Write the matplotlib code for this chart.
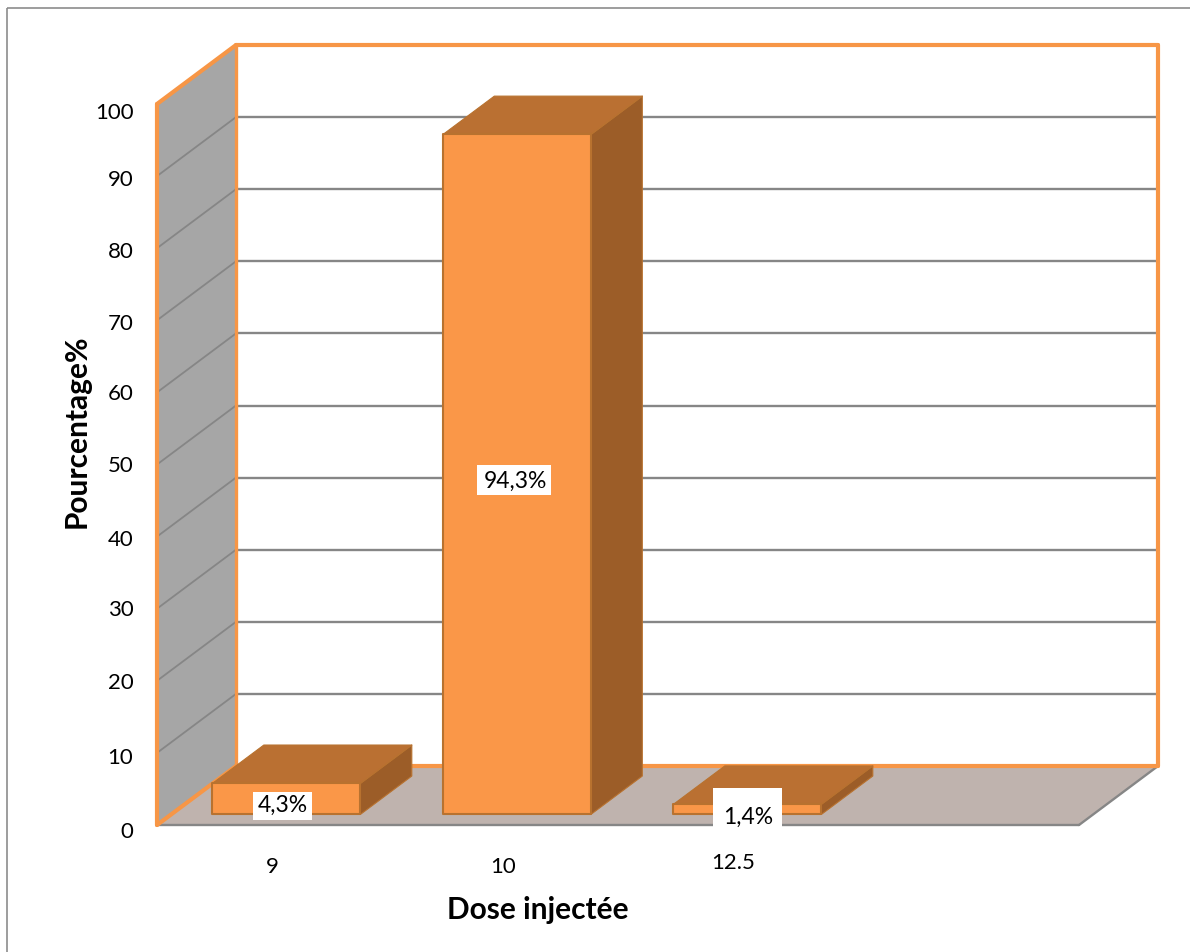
import matplotlib
matplotlib.use("Agg")
import matplotlib.pyplot as plt
from matplotlib.patches import Polygon, Rectangle
from matplotlib.transforms import Affine2D, ScaledTranslation

doses = ["9", "10", "12.5"]
percents = [4.3, 94.3, 1.4]
percent_labels = ["4,3%", "94,3%", "1,4%"]
y_ticks = [0, 10, 20, 30, 40, 50, 60, 70, 80, 90, 100]

plt.rcParams["font.family"] = ["Lato", "DejaVu Sans"]

W, H = 1190, 952
orange = "#F79646"
grid_col = "#868686"
bar_front = "#FA9748"
bar_top = "#BA7032"
bar_side = "#9C5D28"
bar_edge = "#B8722F"

fig = plt.figure(figsize=(W / 100, H / 100), dpi=100)
# top-left pixel coords, only for the frame and the text boxes
px = Affine2D().scale(1, -1).translate(0, H)

fig.add_artist(Rectangle((7, 8), W, H, transform=px, fill=False, ec="#8C8C8C", lw=1.2))

# front plane of the fake 3d box
left, right, y0, y100 = 157, 1079, 825, 104
ax = fig.add_axes([left / W, (H - y0) / H, (right - left) / W, (y0 - y100) / H])
ax.set_xlim(0, 4)
ax.set_ylim(0, 100)
ax.patch.set_visible(False)
for s in ax.spines.values():
    s.set_visible(False)

# depth of the box in data units
depth_x = 79 / ((right - left) / 4)
depth_y = 59 / ((y0 - y100) / 100)


def pt(x, v, d=0.0):
    return (x + d * depth_x, v + d * depth_y)


def poly(points, fc, ec="none", lw=0, z=1):
    ax.add_patch(Polygon(points, closed=True, fc=fc, ec=ec, lw=lw, zorder=z, clip_on=False, joinstyle="round"))


def line(a, b, col, lw, z):
    ax.plot([a[0], b[0]], [a[1], b[1]], color=col, lw=lw, zorder=z, clip_on=False, solid_capstyle="round")


# walls and floor
poly([pt(0, 0), pt(0, 100), pt(0, 100, 1), pt(0, 0, 1)], "#A6A6A6", z=1)
poly([pt(0, 0, 1), pt(4, 0, 1), pt(4, 0), pt(0, 0)], "#BFB3AE", z=1)

for v in y_ticks[1:-1]:
    line(pt(0, v), pt(0, v, 1), grid_col, 1.3, 2)
    line(pt(0, v, 1), pt(4, v, 1), grid_col, 1.7, 2)

line(pt(0, 0), pt(4, 0), grid_col, 1.7, 3)
line(pt(4, 0), pt(4, 0, 1), grid_col, 1.7, 3)

outline = [pt(0, 0), pt(0, 100), pt(0, 100, 1), pt(4, 100, 1), pt(4, 0, 1), pt(0, 0, 1), pt(0, 0)]
for a, b in zip(outline[:-1], outline[1:]):
    line(a, b, orange, 3, 4)
line(pt(0, 0, 1), pt(0, 100, 1), orange, 2.4, 4)

# bars
bar_w = 0.642
d0, d1 = 0.18, 0.83
for i, val in enumerate(percents):
    x0 = i + 0.5 - bar_w / 2
    x1 = x0 + bar_w
    poly([pt(x1, 0, d0), pt(x1, val, d0), pt(x1, val, d1), pt(x1, 0, d1)], bar_side, bar_edge, 0.8, 5)
    poly([pt(x0, val, d0), pt(x1, val, d0), pt(x1, val, d1), pt(x0, val, d1)], bar_top, bar_edge, 0.8, 5)
    poly([pt(x0, 0, d0), pt(x1, 0, d0), pt(x1, val, d0), pt(x0, val, d0)], bar_front, bar_edge, 1.5, 6)

# white label boxes, the 1,4% one is off centre like in the original
boxes = [(253, 792, 59, 28), (477, 465, 74, 30), (713, 788, 69, 39)]
centers = [(283, 805), (515, 481), (748, 817)]
for b, c, lab in zip(boxes, centers, percent_labels):
    fig.add_artist(Rectangle((b[0], b[1]), b[2], b[3], transform=px, fc="white", ec="none", zorder=8))
    fig.text(c[0], c[1], lab, transform=px, ha="center", va="center", fontsize=16.5, color="black", zorder=9)

ax.set_yticks(y_ticks)
ax.set_xticks([i + 0.5 for i in range(len(doses))])
ax.set_xticklabels(doses)
ax.tick_params(axis="y", length=0, pad=17, labelsize=16)
ax.tick_params(axis="x", length=0, pad=23, labelsize=16)

# labels sit a bit unevenly in the original
y_nudge = [-5, -3, 0, 1, -1, 1, 0, -2, -2, -2, -7]
for lab, n in zip(ax.get_yticklabels(), y_nudge):
    lab.set_transform(lab.get_transform() + ScaledTranslation(0, n / 100, fig.dpi_scale_trans))
xlab = ax.get_xticklabels()[2]
xlab.set_transform(xlab.get_transform() + ScaledTranslation(0, 4 / 100, fig.dpi_scale_trans))

fig.text(538, 910, "Dose injectée", transform=px, ha="center", va="center", fontsize=21.5, fontweight="bold")
fig.text(77, 431, "Pourcentage%", transform=px, ha="center", va="center", rotation=90, fontsize=21.5, fontweight="bold")

fig.savefig("out.png", dpi=100)
